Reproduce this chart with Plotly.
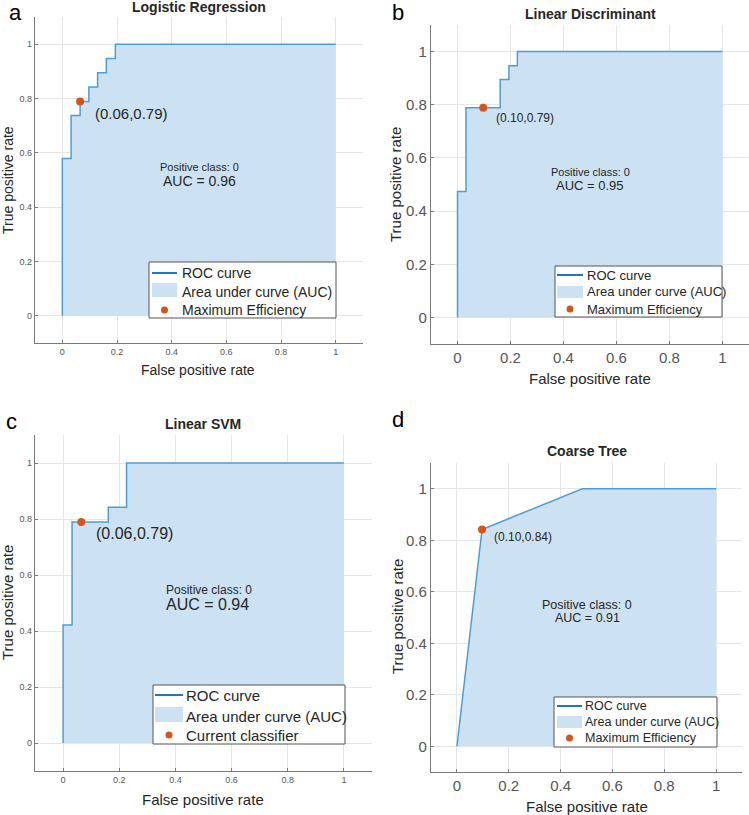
import plotly.graph_objects as go

W, H = 749, 815

# ---------------- data ----------------
titles = ["Logistic Regression", "Linear Discriminant", "Linear SVM", "Coarse Tree"]
panel_letters = ["a", "b", "c", "d"]
auc_values = ["0.96", "0.95", "0.94", "0.91"]
point_legend = ["Maximum Efficiency", "Maximum Efficiency", "Current classifier", "Maximum Efficiency"]

lr_fpr = [0, 0, 0.032, 0.032, 0.065, 0.065, 0.097, 0.097, 0.129, 0.129, 0.161, 0.161, 0.194, 0.194, 1]
lr_tpr = [0, 0.579, 0.579, 0.737, 0.737, 0.789, 0.789, 0.842, 0.842, 0.895, 0.895, 0.947, 0.947, 1, 1]

ld_fpr = [0, 0, 0.032, 0.032, 0.161, 0.161, 0.194, 0.194, 0.226, 0.226, 1]
ld_tpr = [0, 0.474, 0.474, 0.789, 0.789, 0.895, 0.895, 0.947, 0.947, 1, 1]

svm_fpr = [0, 0, 0.032, 0.032, 0.161, 0.161, 0.226, 0.226, 1]
svm_tpr = [0, 0.421, 0.421, 0.789, 0.789, 0.842, 0.842, 1, 1]

tree_fpr = [0, 0.097, 0.484, 1]
tree_tpr = [0, 0.842, 1, 1]

op_fpr = [0.065, 0.097, 0.065, 0.097]
op_tpr = [0.789, 0.789, 0.789, 0.842]
op_labels = ["(0.06,0.79)", "(0.10,0.79)", "(0.06,0.79)", "(0.10,0.84)"]

tick_vals = [0, 0.2, 0.4, 0.6, 0.8, 1]
tick_text = ["0", "0.2", "0.4", "0.6", "0.8", "1"]

curves = [(lr_fpr, lr_tpr), (ld_fpr, ld_tpr), (svm_fpr, svm_tpr), (tree_fpr, tree_tpr)]

# ---------------- layout geometry (pixels) ----------------
# axes boxes: x0, x1, y_top, y_bottom
boxes = [(35, 363, 17, 343), (431, 749, 25, 344), (35, 372, 435, 771), (431, 742, 463, 772)]
tick_font = [9, 15, 9, 15]
xlabel_font = [14, 15, 15, 15]
xlabel_pos = [(198, 370), (590, 378), (203, 799), (587, 806)]
ylabel_pos = [(8, 180), (395, 185), (7, 603), (397, 617)]
title_pos = [(199, 7), (590, 14), (203, 424), (587, 451)]
letter_pos = [(15, 12.5), (398, 12.5), (11, 421), (398, 419)]
pc_pos = [(199, 167), (590, 172), (164, 590), (587, 605)]
auc_pos = [(199, 181), (590, 185), (164, 604), (587, 618)]
pc_font = [11, 11, 12, 12.5]
auc_font = [14, 13, 16, 12.5]
pc_anchor = ["center", "center", "left", "center"]
lab_shift = [(13, -12), (11, -10), (13, -11), (10, -8)]
lab_font = [15, 12, 16, 12]
# legend: box (x0,x1,y0,y1), sample x0,x1, text x, row ys, swatch (y0,y1), font
legends = [
    ((149, 336, 262, 318), (152, 177), 180, (273, 292, 310), (283, 297), 14),
    ((555, 722, 266, 317), (557, 583), 585, (275, 292, 309), (286, 298), 13),
    ((153, 345, 685, 744), (155, 183), 184, (695, 716, 735), (707, 722), 15),
    ((554, 717, 697, 747), (557, 582), 583, (706, 722, 738), (716, 728), 12.5),
]

LINE = "#4d9ddb"
FILL = "#cce2f2"
LEGLINE = "#1f76c4"
ORANGE = "#d95319"
TXT = "#262626"
FONT = "Arial, Liberation Sans, sans-serif"

def px(x):
    return x / W

def py(y):
    return 1 - y / H

fig = go.Figure()
annotations = []
shapes = []

for i in range(4):
    xa = "x" if i == 0 else f"x{i+1}"
    ya = "y" if i == 0 else f"y{i+1}"
    fpr, tpr = curves[i]
    fig.add_trace(go.Scatter(x=fpr, y=tpr, mode="lines", fill="tozeroy", fillcolor=FILL,
                             line=dict(color=LINE, width=1.5), xaxis=xa, yaxis=ya,
                             showlegend=False, hoverinfo="skip"))
    fig.add_trace(go.Scatter(x=[op_fpr[i]], y=[op_tpr[i]], mode="markers",
                             marker=dict(color=ORANGE, size=8), xaxis=xa, yaxis=ya,
                             showlegend=False, hoverinfo="skip"))
    x0, x1, yt, yb = boxes[i]
    axcommon = dict(range=[-0.1, 1.1], tickvals=tick_vals, ticktext=tick_text,
                    showgrid=True, gridcolor="#e6e6e6", gridwidth=1, zeroline=False,
                    showline=True, linecolor="#7a7a7a", linewidth=1.2, ticks="inside",
                    ticklen=3, tickcolor="#7a7a7a", mirror=False,
                    tickfont=dict(family=FONT, size=tick_font[i], color="#555555"),
                    fixedrange=True)
    xname = "xaxis" if i == 0 else f"xaxis{i+1}"
    yname = "yaxis" if i == 0 else f"yaxis{i+1}"
    fig.layout[xname] = dict(axcommon, domain=[px(x0), px(x1)], anchor=ya)
    fig.layout[yname] = dict(axcommon, domain=[py(yb), py(yt)], anchor=xa)

    # titles & labels
    annotations.append(dict(text=f"<b>{titles[i]}</b>", x=px(title_pos[i][0]), y=py(title_pos[i][1]),
                            xref="paper", yref="paper", showarrow=False, xanchor="center", yanchor="middle",
                            font=dict(family=FONT, size=14, color=TXT)))
    annotations.append(dict(text=panel_letters[i], x=px(letter_pos[i][0]), y=py(letter_pos[i][1]),
                            xref="paper", yref="paper", showarrow=False, xanchor="center", yanchor="middle",
                            font=dict(family=FONT, size=22, color="#000000")))
    annotations.append(dict(text="False positive rate", x=px(xlabel_pos[i][0]), y=py(xlabel_pos[i][1]),
                            xref="paper", yref="paper", showarrow=False, xanchor="center", yanchor="middle",
                            font=dict(family=FONT, size=xlabel_font[i], color=TXT)))
    annotations.append(dict(text="True positive rate", x=px(ylabel_pos[i][0]), y=py(ylabel_pos[i][1]),
                            xref="paper", yref="paper", showarrow=False, xanchor="center", yanchor="middle",
                            textangle=-90, font=dict(family=FONT, size=xlabel_font[i], color=TXT)))
    annotations.append(dict(text="Positive class: 0", x=px(pc_pos[i][0]), y=py(pc_pos[i][1]),
                            xref="paper", yref="paper", showarrow=False, xanchor=pc_anchor[i], yanchor="middle",
                            font=dict(family=FONT, size=pc_font[i], color=TXT)))
    annotations.append(dict(text=f"AUC = {auc_values[i]}", x=px(auc_pos[i][0]), y=py(auc_pos[i][1]),
                            xref="paper", yref="paper", showarrow=False, xanchor=pc_anchor[i], yanchor="middle",
                            font=dict(family=FONT, size=auc_font[i], color=TXT)))
    annotations.append(dict(text=op_labels[i], x=op_fpr[i], y=op_tpr[i], xref=xa, yref=ya,
                            showarrow=False, xanchor="left", yanchor="middle",
                            xshift=lab_shift[i][0], yshift=lab_shift[i][1],
                            font=dict(family=FONT, size=lab_font[i], color=TXT)))

    # legend
    (bx0, bx1, by0, by1), (sx0, sx1), tx, rows, (sw0, sw1), lf = legends[i]
    shapes.append(dict(type="rect", xref="paper", yref="paper", x0=px(bx0), x1=px(bx1), y0=py(by1), y1=py(by0),
                       fillcolor="white", line=dict(color="#555555", width=1)))
    shapes.append(dict(type="line", xref="paper", yref="paper", x0=px(sx0), x1=px(sx1), y0=py(rows[0]), y1=py(rows[0]),
                       line=dict(color=LEGLINE, width=2)))
    shapes.append(dict(type="rect", xref="paper", yref="paper", x0=px(sx0), x1=px(sx1), y0=py(sw1), y1=py(sw0),
                       fillcolor=FILL, line=dict(width=0)))
    mx = (sx0 + sx1) / 2
    r = 3.5
    shapes.append(dict(type="circle", xref="paper", yref="paper", x0=px(mx - r), x1=px(mx + r),
                       y0=py(rows[2] + r), y1=py(rows[2] - r), fillcolor=ORANGE, line=dict(width=0)))
    for txt, ry in zip(["ROC curve", "Area under curve (AUC)", point_legend[i]], rows):
        annotations.append(dict(text=txt, x=px(tx), y=py(ry), xref="paper", yref="paper", showarrow=False,
                                xanchor="left", yanchor="middle",
                                font=dict(family=FONT, size=lf, color=TXT)))

fig.update_layout(width=W, height=H, autosize=False, margin=dict(l=0, r=0, t=0, b=0),
                  paper_bgcolor="white", plot_bgcolor="white",
                  annotations=annotations, shapes=shapes, showlegend=False)

fig.write_html("out.html", config={"displayModeBar": False},
               post_script="document.body.style.margin='0px';document.body.style.padding='0px';")
